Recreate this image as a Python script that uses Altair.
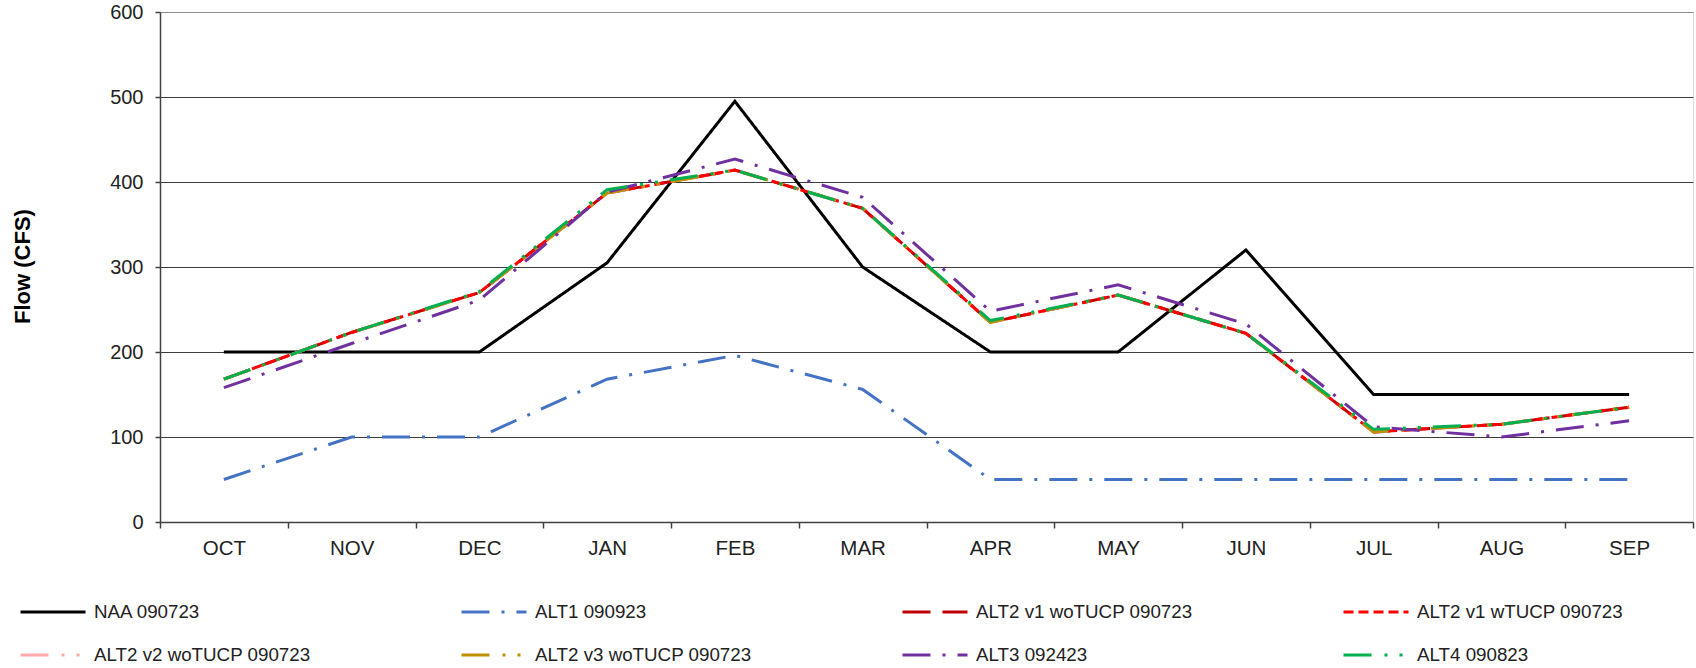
import altair as alt
import pandas as pd

months = ["OCT", "NOV", "DEC", "JAN", "FEB", "MAR", "APR", "MAY", "JUN", "JUL", "AUG", "SEP"]

series_names = [
    "NAA 090723",
    "ALT1 090923",
    "ALT2 v1 woTUCP 090723",
    "ALT2 v1 wTUCP 090723",
    "ALT2 v2 woTUCP 090723",
    "ALT2 v3 woTUCP 090723",
    "ALT3 092423",
    "ALT4 090823",
]

naa = [200, 200, 200, 305, 495, 300, 200, 200, 320, 150, 150, 150]
alt1 = [50, 100, 100, 168, 196, 156, 50, 50, 50, 50, 50, 50]
alt2_v1_wo = [168, 223, 270, 387, 414, 369, 235, 267, 222, 106, 115, 135]
alt2_v1_w = [168, 223, 270, 387, 414, 369, 235, 267, 222, 106, 115, 135]
alt2_v2_wo = [168, 223, 270, 387, 414, 369, 235, 267, 222, 106, 115, 135]
alt2_v3_wo = [168, 223, 270, 387, 414, 369, 235, 267, 222, 106, 115, 135]
alt3 = [158, 210, 261, 388, 427, 382, 248, 279, 233, 112, 100, 119]
alt4 = [168, 223, 271, 391, 414, 369, 237, 267, 222, 109, 115, 135]

series_values = [naa, alt1, alt2_v1_wo, alt2_v1_w, alt2_v2_wo, alt2_v3_wo, alt3, alt4]

colors = ["#000000", "#4472C4", "#C00000", "#FF0000", "#FFAAAA", "#BF9000", "#7030A0", "#00B050"]
dashes = [
    [1, 0],
    [28, 12, 3, 12],
    [28, 12],
    [10, 5],
    [28, 13, 3, 12, 3, 12],
    [28, 13, 3, 12, 3, 12],
    [28, 12, 3, 12],
    [28, 13, 3, 12, 3, 12],
]

rows = []
for name, vals in zip(series_names, series_values):
    for m, v in zip(months, vals):
        rows.append({"month": m, "series": name, "flow": v})
df = pd.DataFrame(rows)

FONT = "Liberation Sans"

legend = alt.Legend(
    title=None,
    orient="none",
    legendX=-141,
    legendY=590,
    columns=4,
    direction="horizontal",
    symbolType="stroke",
    symbolSize=4225,
    symbolStrokeWidth=3,
    labelFontSize=18.75,
    labelFont=FONT,
    labelColor="#222222",
    labelOffset=7,
    labelLimit=400,
    columnPadding=149,
    rowPadding=23,
    clipHeight=20,
    padding=0,
    gridAlign="all",
)

chart = (
    alt.Chart(df)
    .mark_line(strokeWidth=3)
    .encode(
        x=alt.X(
            "month:O",
            sort=months,
            scale=alt.Scale(type="band", paddingInner=0, paddingOuter=0),
            axis=alt.Axis(
                title=None,
                labelAngle=0,
                labelFontSize=20.5,
                labelFont=FONT,
                labelColor="#222222",
                labelPadding=10,
                tickBand="extent",
                tickSize=6,
                tickColor="#404040",
                tickWidth=1.5,
                domainColor="#404040",
                domainWidth=1.5,
                grid=False,
            ),
        ),
        y=alt.Y(
            "flow:Q",
            scale=alt.Scale(domain=[0, 600], nice=False),
            axis=alt.Axis(
                title="Flow (CFS)",
                values=[0, 100, 200, 300, 400, 500, 600],
                labelFontSize=20,
                labelFont=FONT,
                labelColor="#222222",
                labelPadding=12,
                tickSize=5,
                tickColor="#404040",
                tickWidth=1.5,
                domainColor="#404040",
                domainWidth=1.5,
                grid=True,
                gridColor={"condition": {"test": "datum.value === 600", "value": "#8c8c8c"}, "value": "#3c3c3c"},
                gridWidth=1,
                titleFont=FONT,
                titleFontSize=22,
                titleFontWeight="bold",
                titleColor="#000000",
                titleAngle=270,
                titleX=-138,
                titleY=254,
                titleAlign="center",
                titleBaseline="middle",
            ),
        ),
        color=alt.Color(
            "series:N",
            scale=alt.Scale(domain=series_names, range=colors),
            legend=legend,
        ),
        strokeDash=alt.StrokeDash(
            "series:N",
            scale=alt.Scale(domain=series_names, range=dashes),
            legend=legend,
        ),
    )
    .properties(
        width=1533,
        height=510,
        autosize=alt.AutoSizeParams(type="none"),
        padding={"left": 160, "top": 12, "right": 3, "bottom": 146},
    )
    .configure_view(stroke="#8c8c8c", strokeWidth=2)
    .configure(background="white")
)

chart.save("out.html", embed_options={"renderer": "svg", "actions": False})
